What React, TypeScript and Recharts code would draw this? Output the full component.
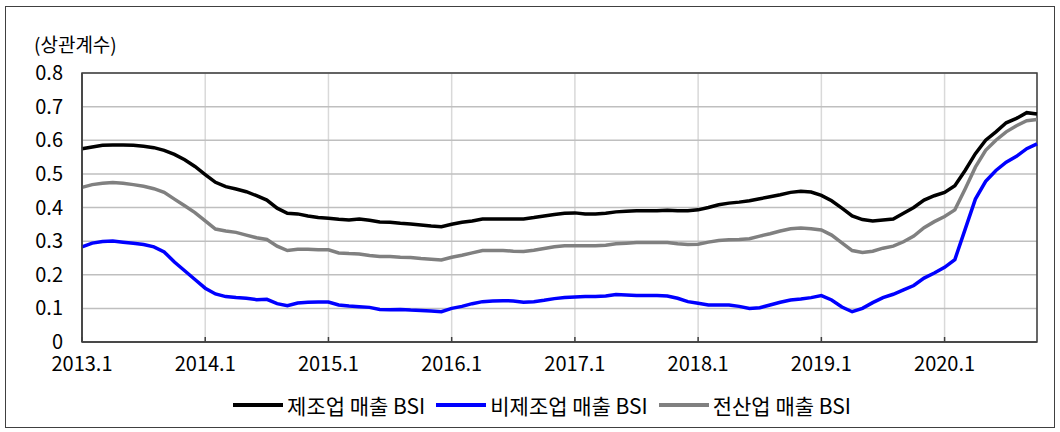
import { CartesianGrid, Line, LineChart, ReferenceArea, XAxis, YAxis } from "recharts";

const START_YEAR = 2013;
const MONTHS: string[] = [];
for (let y = START_YEAR; y <= 2020; y++) {
  for (let m = 1; m <= 12; m++) {
    if (y === 2020 && m > 10) break;
    MONTHS.push(`${y}.${m}`);
  }
}

const X_TICKS = ["2013.1", "2014.1", "2015.1", "2016.1", "2017.1", "2018.1", "2019.1", "2020.1"];
const Y_TICKS = [0, 0.1, 0.2, 0.3, 0.4, 0.5, 0.6, 0.7, 0.8];

// 제조업 매출 BSI
const MANUFACTURING = [
  0.575, 0.58, 0.585, 0.586, 0.586, 0.585, 0.582, 0.578, 0.57, 0.558, 0.542, 0.522,
  0.498, 0.475, 0.462, 0.455, 0.447, 0.435, 0.422, 0.398, 0.383, 0.381, 0.375, 0.37,
  0.368, 0.365, 0.363, 0.366, 0.362, 0.357, 0.356, 0.353, 0.351, 0.348, 0.345, 0.343,
  0.35, 0.356, 0.36, 0.366, 0.366, 0.366, 0.366, 0.366, 0.37, 0.375, 0.379, 0.383,
  0.384, 0.381, 0.381, 0.383, 0.387, 0.389, 0.39, 0.39, 0.39, 0.392, 0.39, 0.39,
  0.393, 0.4, 0.408, 0.413, 0.416, 0.42, 0.426, 0.432, 0.438, 0.445, 0.448, 0.446,
  0.436, 0.42, 0.398, 0.375, 0.364, 0.36, 0.363, 0.366, 0.383, 0.4, 0.422, 0.435,
  0.445, 0.465, 0.51, 0.56, 0.6, 0.625, 0.652, 0.665, 0.682, 0.678,
];

// 비제조업 매출 BSI
const NON_MANUFACTURING = [
  0.283, 0.294, 0.299, 0.3, 0.297, 0.294, 0.29, 0.283, 0.268, 0.238, 0.212, 0.186,
  0.16, 0.143, 0.135, 0.132, 0.13, 0.126, 0.127, 0.114, 0.108, 0.116, 0.118, 0.119,
  0.119, 0.11, 0.107, 0.105, 0.103, 0.097, 0.096, 0.097, 0.095, 0.094, 0.092, 0.09,
  0.1, 0.106, 0.114, 0.12, 0.122, 0.123, 0.122, 0.118, 0.12, 0.124, 0.129, 0.132,
  0.134, 0.135, 0.135, 0.137, 0.141, 0.14, 0.138, 0.138, 0.138, 0.137, 0.13, 0.12,
  0.115, 0.11, 0.11, 0.11, 0.106, 0.1, 0.102, 0.11, 0.118, 0.125, 0.128, 0.132,
  0.138, 0.125, 0.104, 0.09, 0.1, 0.117, 0.132, 0.142, 0.155, 0.168, 0.19, 0.205,
  0.222, 0.245, 0.335, 0.425, 0.478, 0.51, 0.535, 0.552, 0.575, 0.589,
];

// 전산업 매출 BSI
const ALL_INDUSTRY = [
  0.46, 0.468, 0.472, 0.474, 0.472, 0.468, 0.463, 0.456, 0.445, 0.425, 0.405, 0.385,
  0.36, 0.336, 0.33, 0.326, 0.318, 0.31, 0.305, 0.285, 0.272, 0.276, 0.276, 0.274,
  0.274, 0.265, 0.263, 0.262, 0.257, 0.254, 0.254, 0.252, 0.251, 0.248, 0.246, 0.244,
  0.252, 0.258, 0.265, 0.272, 0.272, 0.272, 0.27, 0.269, 0.273, 0.278, 0.283, 0.286,
  0.286, 0.286, 0.286, 0.288, 0.292, 0.294, 0.296, 0.296, 0.296, 0.296, 0.292, 0.29,
  0.291, 0.297, 0.302, 0.304, 0.305, 0.307, 0.315, 0.322, 0.33, 0.337, 0.339, 0.337,
  0.333, 0.318, 0.295, 0.272, 0.266, 0.27, 0.279, 0.285, 0.298, 0.315, 0.34, 0.358,
  0.373, 0.393, 0.455, 0.52, 0.57, 0.6, 0.625, 0.643, 0.658, 0.662,
];

const SERIES = [
  { key: "mfg", name: "제조업 매출 BSI", color: "#000000" },
  { key: "nonMfg", name: "비제조업 매출 BSI", color: "#0000ff" },
  { key: "all", name: "전산업 매출 BSI", color: "#808080" },
];

const data = MONTHS.map((month, i) => ({
  month,
  mfg: MANUFACTURING[i],
  nonMfg: NON_MANUFACTURING[i],
  all: ALL_INDUSTRY[i],
}));

const FONT = "'Noto Sans CJK KR', 'Noto Sans', sans-serif";

export default function App() {
  return (
    <div style={{ position: "absolute", left: 0, top: 0, width: 1060, height: 432, background: "#fff", fontFamily: FONT }}>
      <div style={{ position: "absolute", left: 5, top: 6, width: 1048, height: 420, border: "1px solid #404040" }} />
      <div style={{ position: "absolute", left: 34, top: 31, fontSize: 19, lineHeight: "26px", color: "#000" }}>(상관계수)</div>
      <LineChart
        width={1060}
        height={432}
        data={data}
        margin={{ top: 73, right: 23, bottom: 60, left: 22 }}
        style={{ position: "absolute", left: 0, top: 0 }}
      >
        <CartesianGrid horizontal={false} stroke="#d9d9d9" strokeWidth={1.5} />
        <CartesianGrid vertical={false} stroke="#bfbfbf" strokeWidth={1.5} />
        <XAxis
          dataKey="month"
          ticks={X_TICKS}
          interval={0}
          tickSize={-5}
          tickMargin={20}
          axisLine={{ stroke: "#404040", strokeWidth: 1.5 }}
          tickLine={{ stroke: "#404040", strokeWidth: 1.5 }}
          tick={{ fill: "#000", fontSize: 20, fontFamily: FONT }}
          height={30}
        />
        <YAxis
          domain={[0, 0.8]}
          ticks={Y_TICKS}
          tickFormatter={(v: number) => (v === 0 ? "0" : v.toFixed(1))}
          tickSize={0}
          tickMargin={19}
          axisLine={{ stroke: "#404040", strokeWidth: 1.5 }}
          tickLine={false}
          tick={{ fill: "#000", fontSize: 20, fontFamily: FONT }}
          width={60}
        />
        <ReferenceArea
          x1={MONTHS[0]}
          x2={MONTHS[MONTHS.length - 1]}
          y1={0}
          y2={0.8}
          fill="none"
          stroke="#404040"
          strokeWidth={1.5}
          ifOverflow="visible"
        />
        {SERIES.map((s) => (
          <Line
            key={s.key}
            dataKey={s.key}
            name={s.name}
            stroke={s.color}
            strokeWidth={3.5}
            dot={false}
            isAnimationActive={false}
          />
        ))}
      </LineChart>
      <div
        style={{
          position: "absolute",
          left: 24,
          top: 391,
          width: 1036,
          display: "flex",
          justifyContent: "center",
          alignItems: "center",
          fontSize: 21,
          lineHeight: "28px",
          color: "#000",
          gap: 11,
        }}
      >
        {SERIES.map((s) => (
          <div key={s.key} style={{ display: "flex", alignItems: "center" }}>
            <div style={{ width: 50, height: 4, background: s.color, marginRight: 4 }} />
            <span>{s.name}</span>
          </div>
        ))}
      </div>
    </div>
  );
}
